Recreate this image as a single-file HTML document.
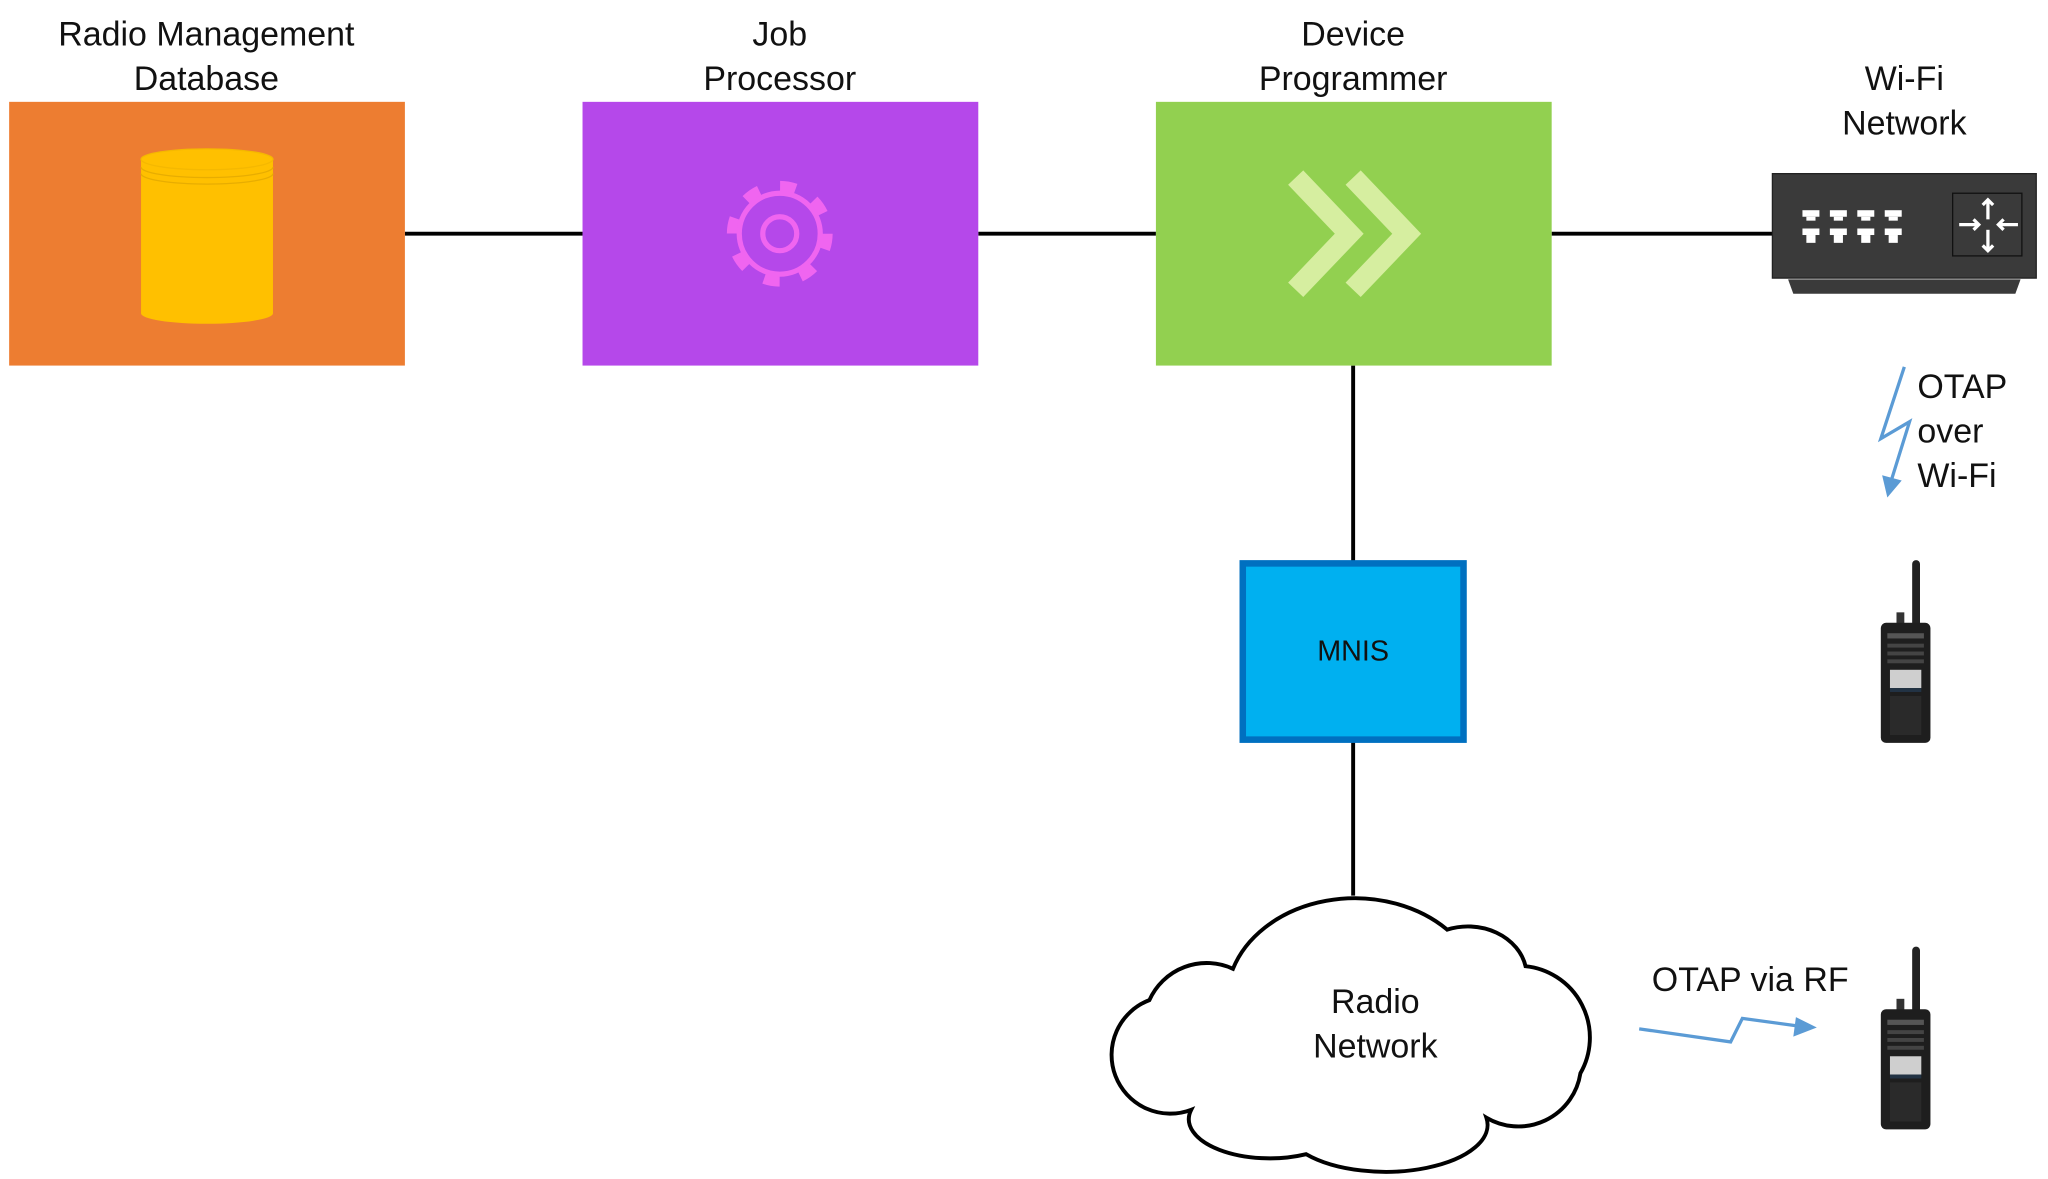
<!DOCTYPE html>
<html><head><meta charset="utf-8"><style>
html,body{margin:0;padding:0;background:#fff;}
svg{display:block;}
text{font-family:"Liberation Sans",sans-serif;font-size:26px;fill:#111;}
</style></head><body>
<svg width="2048" height="1179" viewBox="0 0 1568 903" preserveAspectRatio="none" xmlns="http://www.w3.org/2000/svg">
<defs>
<g id="radio">
<rect x="28" y="0" width="6" height="52" rx="3" fill="#222"/>
<rect x="16" y="40" width="6" height="10" fill="#333"/>
<rect x="4" y="48" width="38" height="92" rx="4" fill="#1e1e1e"/>
<rect x="9" y="56" width="28" height="4" fill="#555"/>
<rect x="9" y="64" width="28" height="3" fill="#444"/>
<rect x="9" y="70" width="28" height="3" fill="#444"/>
<rect x="9" y="76" width="28" height="3" fill="#444"/>
<rect x="11" y="84" width="24" height="14" fill="#cfcfcf"/>
<rect x="11" y="98" width="24" height="3" fill="#234"/>
<rect x="11" y="104" width="24" height="30" fill="#2a2a2a"/>
</g>
</defs>
<g stroke="#000" stroke-width="3">
<line x1="310" y1="179" x2="446" y2="179"/>
<line x1="749" y1="179" x2="885" y2="179"/>
<line x1="1188" y1="179" x2="1357" y2="179"/>
<line x1="1036" y1="280" x2="1036" y2="430"/>
<line x1="1036" y1="568" x2="1036" y2="686"/>
</g>
<rect x="7" y="78" width="303" height="202" fill="#ED7D31"/>
<rect x="446" y="78" width="303" height="202" fill="#B548EA"/>
<rect x="885" y="78" width="303" height="202" fill="#92D050"/>
<rect x="108" y="122" width="101" height="118" fill="#FFC000"/>
<ellipse cx="158.5" cy="240" rx="50.5" ry="8" fill="#FFC000"/>
<ellipse cx="158.5" cy="122" rx="50.5" ry="8" fill="#FFC000" stroke="#F5B800" stroke-width="1"/>
<path d="M108,128 A50.5,8 0 0 0 209,128 M108,133 A50.5,8 0 0 0 209,133" fill="none" stroke="#E8AD00" stroke-width="1"/>
<g stroke="#F065F0" fill="none" stroke-width="4">
<circle cx="597" cy="179" r="36" stroke-width="9" stroke-dasharray="12 16.27"/>
</g>
<circle cx="597" cy="179" r="29" fill="#B548EA"/>
<circle cx="597" cy="179" r="31" fill="none" stroke="#F065F0" stroke-width="4"/>
<circle cx="597" cy="179" r="13" fill="none" stroke="#F065F0" stroke-width="4"/>
<g stroke="#D6EEA0" stroke-width="16" fill="none">
<polyline points="992,136 1033,179 992,222"/>
<polyline points="1036,136 1077,179 1036,222"/>
</g>
<rect x="1357" y="133" width="202" height="80" fill="#3a3a3a" stroke="#222" stroke-width="1"/>
<polygon points="1369,214 1547,214 1543,225 1373,225" fill="#3a3a3a"/>
<g fill="#fff">
<rect x="1380" y="161" width="13" height="5"/><rect x="1383" y="166" width="7" height="3"/>
<rect x="1380" y="175" width="13" height="5"/><rect x="1383" y="180" width="7" height="6"/>
<rect x="1401" y="161" width="13" height="5"/><rect x="1404" y="166" width="7" height="3"/>
<rect x="1401" y="175" width="13" height="5"/><rect x="1404" y="180" width="7" height="6"/>
<rect x="1422" y="161" width="13" height="5"/><rect x="1425" y="166" width="7" height="3"/>
<rect x="1422" y="175" width="13" height="5"/><rect x="1425" y="180" width="7" height="6"/>
<rect x="1443" y="161" width="13" height="5"/><rect x="1446" y="166" width="7" height="3"/>
<rect x="1443" y="175" width="13" height="5"/><rect x="1446" y="180" width="7" height="6"/>
</g>
<rect x="1495" y="148" width="53" height="48" fill="none" stroke="#111" stroke-width="1"/>
<g stroke="#fff" stroke-width="2.5" fill="none">
<line x1="1500" y1="172" x2="1515" y2="172"/><polyline points="1511,168 1515,172 1511,176"/>
<line x1="1545" y1="172" x2="1530" y2="172"/><polyline points="1534,168 1530,172 1534,176"/>
<line x1="1522" y1="168" x2="1522" y2="153"/><polyline points="1518,157 1522,153 1526,157"/>
<line x1="1522" y1="176" x2="1522" y2="192"/><polyline points="1518,188 1522,192 1526,188"/>
</g>
<rect x="951.5" y="431.5" width="169" height="135" fill="#00B0F0" stroke="#0070C0" stroke-width="5"/>
<text x="1036" y="506" text-anchor="middle" style="font-size:22px">MNIS</text>
<path d="M912,850 A44,44 0 0 1 880,766 A48,48 0 0 1 944,742 A98,78 0 0 1 1108,712 A45,38 0 0 1 1168,740 A55,55 0 0 1 1210,822 A48,48 0 0 1 1138,856 A78,36 0 0 1 1000,884 A62,30 0 0 1 912,850 Z" fill="#fff" stroke="#000" stroke-width="3"/>
<g stroke="#5B9BD5" stroke-width="2.5" fill="none">
<polyline points="1458,281 1440,336 1462,323 1448,368"/>
<polyline points="1255,788 1325,798 1334,780 1378,786"/>
</g>
<polygon points="1441,364 1456,368 1445,381" fill="#5B9BD5"/>
<polygon points="1375,779 1391,787 1373,794" fill="#5B9BD5"/>
<use href="#radio" x="1436" y="429"/>
<use href="#radio" x="1436" y="725"/>
<g text-anchor="middle">
<text x="158" y="35">Radio Management</text>
<text x="158" y="69">Database</text>
<text x="597" y="35">Job</text>
<text x="597" y="69">Processor</text>
<text x="1036" y="35">Device</text>
<text x="1036" y="69">Programmer</text>
<text x="1458" y="69">Wi-Fi</text>
<text x="1458" y="103">Network</text>
<text x="1053" y="776">Radio</text>
<text x="1053" y="810">Network</text>
<text x="1340" y="759">OTAP via RF</text>
</g>
<text x="1468" y="305">OTAP</text>
<text x="1468" y="339">over</text>
<text x="1468" y="373">Wi-Fi</text>
</svg>
</body></html>
